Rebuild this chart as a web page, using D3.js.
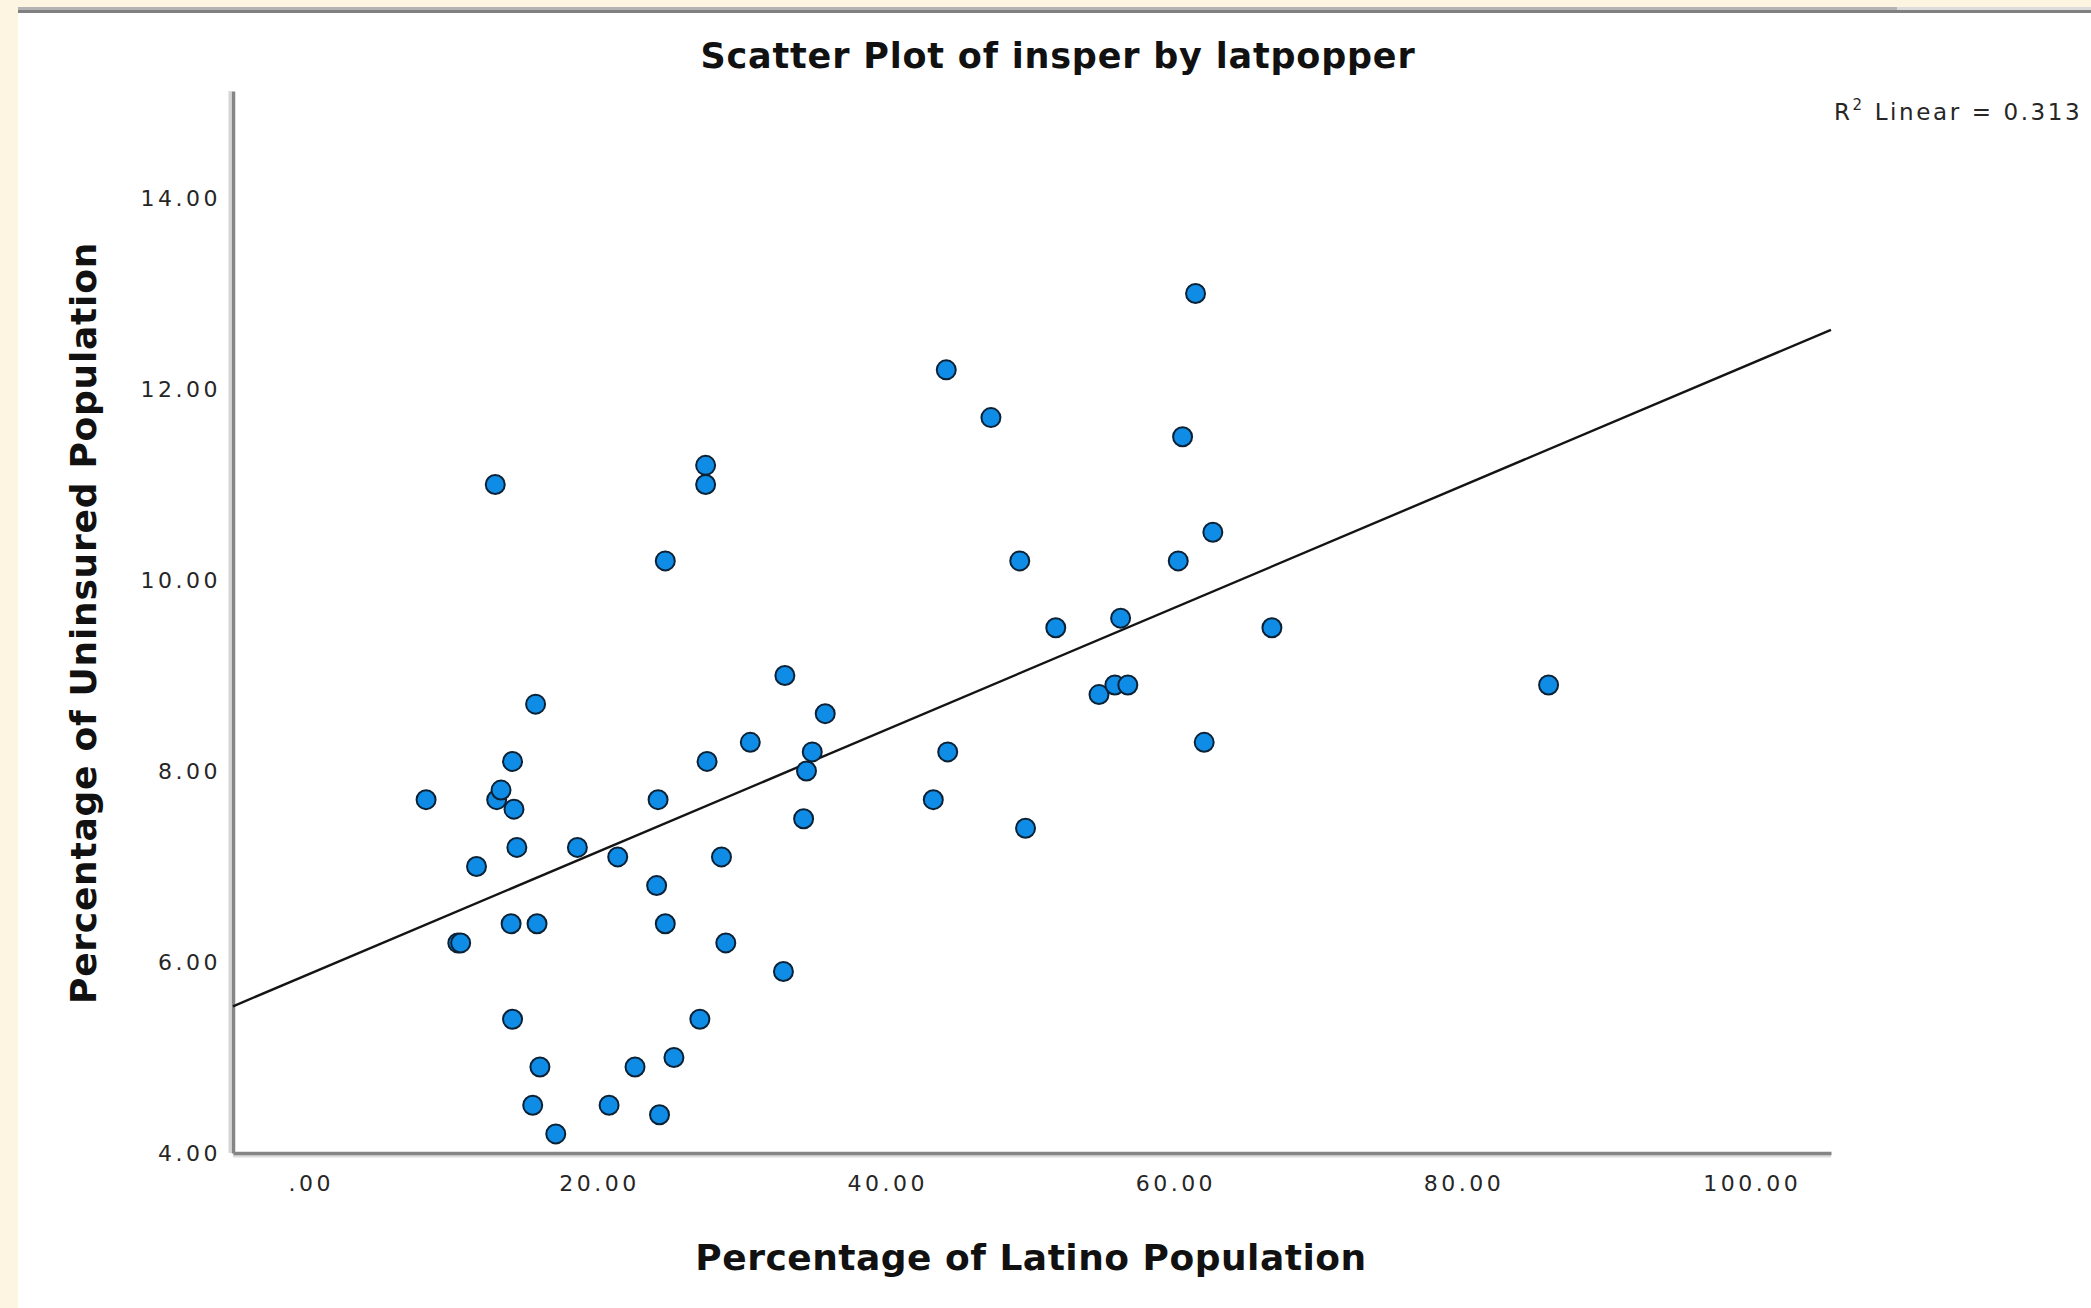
<!DOCTYPE html>
<html>
<head>
<meta charset="utf-8">
<script src="https://cdnjs.cloudflare.com/ajax/libs/d3/7.8.5/d3.min.js"></script>
<style>
    body { margin: 0; background: #fef4e2; overflow: hidden; }
</style>
</head>
<body>
<svg id="chart" width="2091" height="1308"></svg>
<script>

var latpopper = [8.0, 10.2, 10.4, 11.5, 12.8, 12.9, 13.2, 14.0, 14.1, 14.3,
    13.9, 14.0, 15.6, 15.7, 15.9, 15.4, 17.0, 18.5, 20.7, 21.3,
    22.5, 24.0, 24.1, 24.2, 24.6, 24.6, 25.2, 27.0, 27.5, 27.4,
    27.4, 28.5, 28.8, 30.5, 32.8, 32.9, 34.2, 34.4, 34.8, 35.7,
    43.2, 44.1, 44.2, 47.2, 49.2, 49.6, 51.7, 54.7, 55.8, 56.2,
    56.7, 60.2, 60.5, 61.4, 62.0, 62.6, 66.7, 85.9];

var insper = [7.7, 6.2, 6.2, 7.0, 11.0, 7.7, 7.8, 8.1, 7.6, 7.2,
    6.4, 5.4, 8.7, 6.4, 4.9, 4.5, 4.2, 7.2, 4.5, 7.1,
    4.9, 6.8, 7.7, 4.4, 6.4, 10.2, 5.0, 5.4, 8.1, 11.2,
    11.0, 7.1, 6.2, 8.3, 5.9, 9.0, 7.5, 8.0, 8.2, 8.6,
    7.7, 12.2, 8.2, 11.7, 10.2, 7.4, 9.5, 8.8, 8.9, 9.6,
    8.9, 10.2, 11.5, 13.0, 8.3, 10.5, 9.5, 8.9];

var xTicks = [0, 20, 40, 60, 80, 100];
var yTicks = [4, 6, 8, 10, 12, 14];
var xDomain = [-5.4, 105.5];
var yDomain = [4, 15.12];

var r2Linear = "0.313";
var chartTitle = "Scatter Plot of insper by latpopper";
var xLabel = "Percentage of Latino Population";
var yLabel = "Percentage of Uninsured Population";


function drawChart() {

    var svg = d3.select("#chart");

    var dims = {
        "width": 2091, "height": 1308,
        "left": 233, "right": 1831, "top": 91, "bottom": 1153
    };

    // page frame: cream strip, grey toolbar line, white output pane
    svg.append("rect")
        .attr("x", 18).attr("y", 7)
        .attr("width", dims.width - 18).attr("height", dims.height - 7)
        .attr("fill", "#ffffff");
    svg.append("rect")
        .attr("x", 18).attr("y", 7)
        .attr("width", dims.width - 18).attr("height", 3)
        .attr("fill", "#b3b3b3");
    svg.append("rect")
        .attr("x", 1897).attr("y", 7)
        .attr("width", dims.width - 1897).attr("height", 3)
        .attr("fill", "#dcdcdc");
    svg.append("rect")
        .attr("x", 18).attr("y", 10)
        .attr("width", dims.width - 18).attr("height", 3)
        .attr("fill", "#808080");

    var x = d3.scaleLinear()
        .domain(xDomain)
        .range([dims.left, dims.right]);

    var y = d3.scaleLinear()
        .domain(yDomain)
        .range([dims.bottom, dims.top]);

    var fmt = function (d) {
        return d === 0 ? ".00" : d3.format(".2f")(d);
    };

    // light shadow next to the axis lines
    svg.append("line")
        .attr("x1", dims.left - 3).attr("x2", dims.left - 3)
        .attr("y1", dims.top).attr("y2", dims.bottom)
        .attr("stroke", "#d6d6d6").attr("stroke-width", 3);
    svg.append("line")
        .attr("x1", dims.left).attr("x2", dims.right)
        .attr("y1", dims.bottom + 3).attr("y2", dims.bottom + 3)
        .attr("stroke", "#dcdcdc").attr("stroke-width", 3);

    var xAxis = svg.append("g")
        .attr("transform", "translate(0," + dims.bottom + ")")
        .call(d3.axisBottom(x).tickValues(xTicks).tickFormat(fmt)
            .tickSize(0).tickSizeOuter(0).tickPadding(22));

    var yAxis = svg.append("g")
        .attr("transform", "translate(" + dims.left + ",0)")
        .call(d3.axisLeft(y).tickValues(yTicks).tickFormat(fmt)
            .tickSize(0).tickSizeOuter(0).tickPadding(12));

    [xAxis, yAxis].forEach(function (g) {
        g.select(".domain")
            .attr("stroke", "#858585")
            .attr("stroke-width", 3.5);
        g.selectAll("text")
            .attr("fill", "#262626")
            .style("font-family", "DejaVu Sans")
            .style("font-size", "22px")
            .style("letter-spacing", "3.5px");
    });

    // least squares fit line
    var n = latpopper.length;
    var mx = d3.mean(latpopper), my = d3.mean(insper);
    var sxy = 0, sxx = 0;
    for (var i = 0; i < n; i++) {
        sxy += (latpopper[i] - mx) * (insper[i] - my);
        sxx += (latpopper[i] - mx) * (latpopper[i] - mx);
    }
    var slope = sxy / sxx;
    var intercept = my - slope * mx;

    svg.append("line")
        .attr("x1", x(xDomain[0]))
        .attr("y1", y(intercept + slope * xDomain[0]))
        .attr("x2", x(xDomain[1]))
        .attr("y2", y(intercept + slope * xDomain[1]))
        .attr("stroke", "#141414")
        .attr("stroke-width", 2.4);

    var points = latpopper.map(function (d, i) {
        return {'x': d, 'y': insper[i]};
    });

    svg.append("g").selectAll("circle")
        .data(points)
        .enter()
        .append("circle")
        .attr("cx", function (d) { return x(d.x); })
        .attr("cy", function (d) { return y(d.y); })
        .attr("r", 9.5)
        .attr("fill", "#0f8de6")
        .attr("stroke", "#0b2236")
        .attr("stroke-width", 2);

    // titles
    svg.append("text")
        .attr("x", 1058).attr("y", 68)
        .attr("text-anchor", "middle")
        .style("font-family", "DejaVu Sans")
        .style("font-weight", "bold")
        .style("font-size", "35px")
        .style("letter-spacing", "0.8px")
        .attr("fill", "#111")
        .text(chartTitle);

    svg.append("text")
        .attr("x", 1031).attr("y", 1270)
        .attr("text-anchor", "middle")
        .style("font-family", "DejaVu Sans")
        .style("font-weight", "bold")
        .style("font-size", "36px")
        .style("letter-spacing", "0.5px")
        .attr("fill", "#111")
        .text(xLabel);

    svg.append("text")
        .attr("transform", "translate(96,623) rotate(-90)")
        .attr("text-anchor", "middle")
        .style("font-family", "DejaVu Sans")
        .style("font-weight", "bold")
        .style("font-size", "36px")
        .style("letter-spacing", "0.75px")
        .attr("fill", "#111")
        .text(yLabel);

    // R squared annotation, squeezed up against the right edge
    var r2 = svg.append("text")
        .attr("x", 1834).attr("y", 120)
        .style("font-family", "DejaVu Sans")
        .style("font-size", "23px")
        .style("letter-spacing", "2.6px")
        .attr("fill", "#262626");
    r2.append("tspan").text("R");
    r2.append("tspan")
        .attr("dy", -10)
        .style("font-size", "15px")
        .text("2");
    r2.append("tspan")
        .attr("dy", 10)
        .text(" Linear = " + r2Linear);
}

drawChart();

</script>
</body>
</html>
